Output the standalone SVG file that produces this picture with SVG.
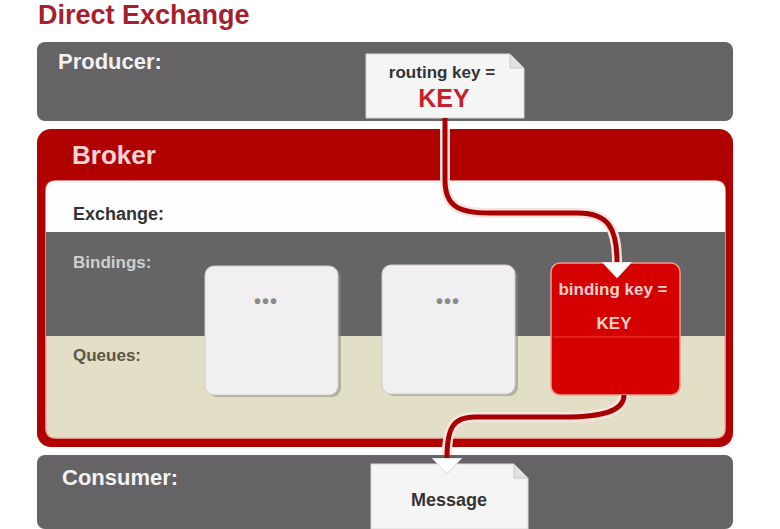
<svg xmlns="http://www.w3.org/2000/svg" width="780" height="529" viewBox="0 0 780 529">
  <style>
    text { font-family: "Liberation Sans", Arial, sans-serif; font-weight: bold; }
    .band { fill: #656365; }
    .label-light { fill: #f2f2f2; font-size: 22px; }
    .note { fill: #f6f5f6; stroke: #d8d8d8; stroke-width: 1; }
    .fold { fill: #e2e2e4; stroke: #c8c8c8; stroke-width: 1; }
    .queue { fill: #f1eff1; stroke: #d0ceca; stroke-width: 1; }
    .qshadow { fill: #8a8780; opacity: 0.55; }
    .dots { fill: #8a8a8a; font-size: 20px; letter-spacing: 1px; }
    .halo { fill: none; stroke: #fbe3e0; stroke-width: 10; stroke-linecap: butt; }
    .wire { fill: none; stroke: #a80000; stroke-width: 5; }
  </style>
  <defs>
    <marker id="arrow" markerUnits="userSpaceOnUse" viewBox="0 -17 18 34" markerWidth="18" markerHeight="34" refX="0" refY="0" orient="auto">
      <path d="M0,-15 L16,0 L0,15 Z" fill="#ffffff" stroke="#d0d0d0" stroke-width="1"/>
    </marker>
  </defs>

  <rect width="780" height="529" fill="#ffffff"/>

  <g id="title">
    <text x="38" y="24" font-size="27" fill="#a61f2b">Direct Exchange</text>
  </g>

  <g id="producer">
    <rect class="band" x="37" y="42" width="696" height="79" rx="8"/>
    <text class="label-light" x="58" y="69">Producer:</text>
  </g>

  <g id="broker">
    <rect x="37" y="129" width="696" height="318" rx="14" fill="#b10000"/>
    <text x="72" y="164" font-size="26" fill="#f9d4d4">Broker</text>
    <path d="M56 181 H715 Q725 181 725 191 V428 Q725 438 715 438 H56 Q46 438 46 428 V191 Q46 181 56 181 Z" fill="#e3dfc6" stroke="#f6b4ac" stroke-width="1.5"/>
    <g id="exchange">
      <path d="M56 181 H715 Q725 181 725 191 V232 H46 V191 Q46 181 56 181 Z" fill="#fefefe"/>
      <text x="73" y="220" font-size="18" fill="#333333">Exchange:</text>
    </g>
    <g id="bindings">
      <rect x="46" y="232" width="679" height="104" fill="#666566"/>
      <text x="73" y="268" font-size="17" fill="#cfcfcf">Bindings:</text>
    </g>
    <g id="queues">
      <text x="73" y="361" font-size="17" fill="#5a5648">Queues:</text>
    </g>
  </g>

  <g id="queue1">
    <rect class="qshadow" x="208" y="268" width="133" height="129" rx="9"/>
    <rect class="queue" x="205" y="266" width="133" height="129" rx="9"/>
    <text class="dots" x="266" y="308" text-anchor="middle">•••</text>
  </g>

  <g id="queue2">
    <rect class="qshadow" x="385" y="267" width="133" height="129" rx="9"/>
    <rect class="queue" x="382" y="265" width="133" height="129" rx="9"/>
    <text class="dots" x="448" y="308" text-anchor="middle">•••</text>
  </g>

  <g id="binding">
    <rect x="551" y="263" width="129" height="132" rx="9" fill="#d50000" stroke="#f19a94" stroke-width="1.5"/>
    <line x1="553" y1="337" x2="678" y2="337" stroke="#e6413c" stroke-width="1"/>
    <text x="613" y="295" font-size="17" fill="#fbd0cc" text-anchor="middle">binding key =</text>
    <text x="614" y="329" font-size="17" fill="#fbd0cc" text-anchor="middle" font-weight="normal">KEY</text>
  </g>

  <g id="consumer">
    <rect class="band" x="37" y="455" width="696" height="74" rx="8"/>
    <text class="label-light" x="62" y="485">Consumer:</text>
  </g>

  <g id="routing-note">
    <path class="note" d="M366 54 H510 L524 68 V118 H366 Z"/>
    <path class="fold" d="M510 54 V68 H524 Z"/>
    <text x="442" y="78" font-size="17" fill="#333333" text-anchor="middle">routing key =</text>
    <text x="444" y="107" font-size="25" fill="#c3232d" text-anchor="middle">KEY</text>
  </g>

  <g id="message-note">
    <path class="note" d="M371 464 H514 L528 478 V529 H371 Z"/>
    <path class="fold" d="M514 464 V478 H528 Z"/>
    <text x="449" y="506" font-size="18" fill="#333333" text-anchor="middle">Message</text>
  </g>

  <g id="connectors">
    <path class="halo" d="M445 129 V180 C445 206 458 213 490 213 H578 C608 213 617 228 617 262"/>
    <path class="wire" d="M445 118 V180 C445 206 458 213 490 213 H578 C608 213 617 228 617 262" marker-end="url(#arrow)"/>
    <path class="halo" d="M624 395 C624 412 600 417 565 417 H475 C453 417 447 428 447 455"/>
    <path class="wire" d="M624 395 C624 412 600 417 565 417 H475 C453 417 447 428 447 458" marker-end="url(#arrow)"/>
  </g>
</svg>
